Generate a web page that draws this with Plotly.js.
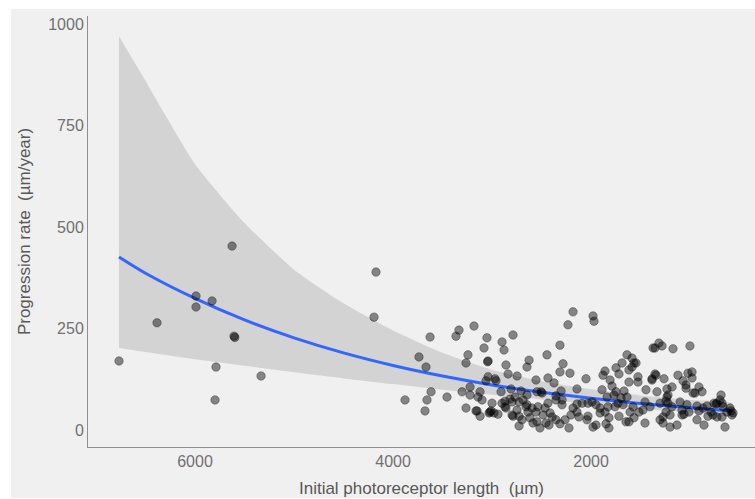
<!DOCTYPE html>
<html>
<head>
<meta charset="utf-8">
<script src="https://cdn.plot.ly/plotly-3.0.1.min.js"></script>
<style>
  html, body { margin: 0; padding: 0; background: #ffffff; width: 755px; height: 499px; overflow: hidden; }
  #chart { position: absolute; left: 11px; top: 9px; width: 744px; height: 489px; }
</style>
</head>
<body>
<div id="chart"></div>
<script>
// Observations: initial photoreceptor length (µm) and progression rate (µm/year)
const pointLength = [
  6768, 6384, 5990, 5990, 5828, 5606, 5598, 5788, 5798, 5626, 5333, 4192, 4172,
  3626, 3738, 3667, 3879, 3657, 3677, 3616, 3455, 3334, 3364, 3182, 3243, 3263,
  3303, 3222, 3222, 3263, 3152, 3121, 3051, 3081, 3040, 3045, 3040, 3061, 2960,
  2909, 3121, 3142, 3101, 3000, 3020, 2940, 2899, 2879, 2859, 2838, 2869, 3162,
  3010, 3030, 2980, 2899, 2818, 2798, 2808, 2859, 2798, 2768, 2788, 2788, 2747,
  2647, 2626, 2445, 2314, 2283, 2314, 2213, 2233, 2182, 2142, 2556, 2435, 2374,
  2505, 2303, 2293, 2546, 1980, 1970, 2970, 2707, 2647, 2495, 2354, 2051, 1637,
  1586, 1566, 1687, 1748, 1859, 1879, 1718, 1617, 1586, 1526, 1526, 1617, 1808,
  1788, 1889, 1748, 1667, 1838, 1768, 1697, 1637, 1445, 1334, 1455, 1384, 1344,
  1263, 1374, 1314, 1283, 1172, 1001, 1122, 1071, 980, 1021, 980, 910, 970,
  1041, 1182, 1233, 1223, 1243, 1303, 1182, 1101, 1031, 1011, 1081, 930, 910,
  819, 738, 697, 687, 667, 627, 566, 586, 647, 829, 930, 859, 1202, 1132, 1273,
  1303, 1455, 1566, 1617, 1647, 1718, 1819, 1819, 1849, 1909, 1950, 1980, 2031,
  2041, 2122, 2142, 2203, 2223, 2314, 2394, 2455, 2546, 2617, 2727, 2727, 2748,
  2031, 1950, 1990, 2091, 2142, 2182, 2293, 2354, 2435, 2465, 2536, 2596, 2647,
  2687, 2727, 2869, 2414, 2485, 2556, 2637, 1475, 1404, 1516, 1576, 1606, 1677,
  1728, 1758, 1829, 1859, 1909, 869, 788, 768, 728, 677, 1243, 1202, 1081, 1061,
  1273, 1546, 1354, 1384, 879, 1041, 950, 728, 758, 677, 596, 576, 1223, 1233,
  2697, 2586, 2516, 2354, 2263, 2425, 2657, 1354
];
const pointRate = [
  170, 264, 330, 303, 318, 231, 228, 155, 74, 453, 133, 278, 389,
  229, 180, 155, 74, 74, 47, 94, 81, 246, 231, 256, 185, 165,
  94, 106, 86, 54, 47, 34, 227, 202, 170, 168, 131, 121, 121,
  94, 94, 81, 74, 66, 44, 39, 217, 197, 160, 138, 57, 47,
  47, 42, 42, 66, 76, 69, 101, 54, 37, 81, 34, 234, 133,
  155, 172, 185, 209, 163, 143, 140, 259, 291, 101, 123, 128, 116,
  94, 96, 74, 94, 281, 268, 126, 96, 86, 91, 84, 126, 185,
  177, 165, 165, 153, 145, 135, 138, 148, 155, 131, 118, 118, 123,
  108, 99, 94, 96, 81, 86, 79, 81, 99, 94, 69, 126, 135,
  126, 202, 214, 207, 200, 207, 135, 121, 143, 140, 128, 106, 91,
  111, 106, 101, 86, 71, 66, 57, 69, 62, 44, 37, 59, 47,
  34, 64, 74, 86, 57, 44, 42, 47, 7, 59, 25, 12, 7, 12, 17,
  25, 17, 30, 20, 20, 34, 30, 5, 15, 42, 12, 7, 34,
  25, 32, 44, 37, 5, 15, 32, 17, 20, 30, 10, 34, 49,
  66, 62, 69, 66, 64, 54, 62, 74, 66, 54, 57, 54, 62,
  74, 69, 71, 42, 37, 44, 44, 49, 57, 44, 57, 44, 62,
  66, 57, 57, 44, 54, 54, 44, 37, 32, 32, 44, 37, 49, 39,
  32, 165, 138, 123, 94, 103, 91, 66, 66, 66, 54, 37, 66, 81,
  25, 17, 5, 25, 25, 12, 57, 202
];

// Fitted curve and its confidence band
const fitLength = [6768, 6500, 6000, 5500, 5000, 4500, 4000, 3500, 3000, 2500, 2000, 1500, 1000, 576];
const fitRate   = [426, 386, 324, 271, 227, 190, 159, 133, 111, 93, 78, 65, 55, 47];
const bandUpper = [970, 860, 655, 510, 395, 312, 245, 190, 148, 120, 100, 85, 74, 66];
const bandLower = [202, 192, 174, 158, 142, 127, 113, 99, 87, 75, 64, 52, 43, 36];

// Axis ticks and labels
const xTicks = [2000, 4000, 6000];
const yTicks = [0, 250, 500, 750, 1000];
const xTitle = 'Initial photoreceptor length \u00a0(\u00b5m)';
const yTitle = 'Progression rate \u00a0(\u00b5m/year)';

const bandTrace = {
  x: fitLength.concat(fitLength.slice().reverse()),
  y: bandUpper.concat(bandLower.slice().reverse()),
  type: 'scatter', mode: 'lines', fill: 'toself',
  fillcolor: '#d3d3d3', line: { width: 0, shape: 'spline', smoothing: 0.5 },
  hoverinfo: 'skip', showlegend: false
};
const fitTrace = {
  x: fitLength, y: fitRate, type: 'scatter', mode: 'lines',
  line: { color: '#3366ff', width: 3, shape: 'spline', smoothing: 0.8 },
  hoverinfo: 'skip', showlegend: false
};
const pointTrace = {
  x: pointLength, y: pointRate, type: 'scatter', mode: 'markers',
  marker: { size: 8.5, color: 'rgba(0,0,0,0.45)', line: { color: 'rgba(0,0,0,0.3)', width: 1 } },
  showlegend: false
};

const axisFont = { family: '"Liberation Sans", Arial, sans-serif', size: 16, color: '#707070' };
const titleFont = { family: '"Liberation Sans", Arial, sans-serif', size: 17, color: '#585858' };

const layout = {
  width: 744, height: 489,
  margin: { l: 77, r: 0, t: 7, b: 51 },
  paper_bgcolor: '#f0f0f0', plot_bgcolor: '#f0f0f0',
  showlegend: false,
  xaxis: {
    range: [7081, 344], tickvals: xTicks, ticktext: xTicks.map(String),
    showgrid: false, zeroline: false, showline: true, linecolor: '#8f8f8f', linewidth: 1,
    ticks: '', tickfont: axisFont,
    title: { text: xTitle, font: titleFont, standoff: 12 }
  },
  yaxis: {
    range: [-42, 1020], tickvals: yTicks, ticktext: yTicks.map(String),
    showgrid: false, zeroline: false, showline: true, linecolor: '#8f8f8f', linewidth: 1,
    ticks: '', tickfont: axisFont,
    title: { text: yTitle, font: titleFont, standoff: 13 }
  }
};

Plotly.newPlot('chart', [bandTrace, fitTrace, pointTrace], layout, { displayModeBar: false, staticPlot: true });
</script>
</body>
</html>
